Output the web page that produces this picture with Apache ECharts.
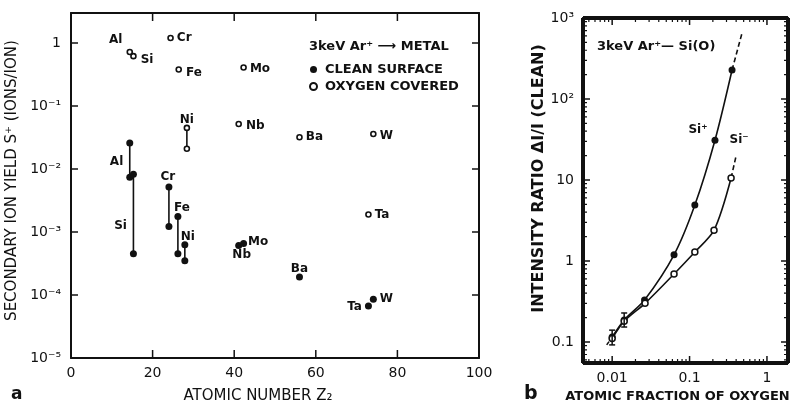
<!DOCTYPE html>
<html>
<head>
<meta charset="utf-8">
<script src="https://cdn.jsdelivr.net/npm/echarts@6/dist/echarts.min.js"></script>
<style>
  html, body { margin: 0; padding: 0; background: #fff; }
  #chart { width: 804px; height: 411px; background: #fff; }
</style>
</head>
<body>
<div id="chart"></div>
<script>
// ---- Panel a: secondary ion yield S+ for 3 keV Ar+ on metals ----
const elements        = ['Al', 'Si', 'Cr', 'Fe', 'Ni', 'Nb', 'Mo', 'Ba', 'Ta', 'W'];
const zClean          = [14.4, 15.3, 24.0, 26.2, 27.9, 41.1, 42.3, 56.0, 72.9, 74.1];
const yieldCleanHigh  = [0.026, 0.0083, 0.0052, 0.00177, 0.00063, 0.00061, 0.00066, 0.000194, 0.000067, 0.000086];
const yieldCleanLow   = [0.0074, 0.00045, 0.00122, 0.00045, 0.00035, null, null, null, null, null];
const zOxygen         = [14.4, 15.3, 24.4, 26.4, 28.4, 41.1, 42.3, 56.0, 72.9, 74.1];
const yieldOxygenHigh = [0.72, 0.62, 1.2, 0.38, 0.045, 0.052, 0.41, 0.032, 0.0019, 0.036];
const yieldOxygenLow  = [null, null, null, null, 0.021, null, null, null, null, null];
const zMajorTicks     = [20, 40, 60, 80];
const yieldMajorTicks = [1e-4, 1e-3, 1e-2, 1e-1, 1];
const yieldExponents  = [-5, -4, -3, -2, -1, 0];
const yieldTickLabels = ['10⁻⁵', '10⁻⁴', '10⁻³', '10⁻²', '10⁻¹', '1'];

// ---- Panel b: intensity ratio vs atomic fraction of oxygen, Si(O) ----
const fracSiPlus       = [0.0100, 0.0143, 0.0262, 0.063, 0.117, 0.213, 0.354];
const ratioSiPlus      = [0.115, 0.187, 0.33, 1.19, 4.9, 31, 228];
const fracSiMinus      = [0.0100, 0.0143, 0.0266, 0.063, 0.117, 0.207, 0.344];
const ratioSiMinus     = [0.110, 0.180, 0.30, 0.69, 1.29, 2.4, 10.6];
const fracSiPlusExt    = [0.354, 0.476];
const ratioSiPlusExt   = [228, 650];
const fracSiMinusExt   = [0.344, 0.40];
const ratioSiMinusExt  = [10.6, 20];
const fracLowExt       = [0.0085, 0.0100];
const ratioLowExt      = [0.092, 0.115];
const errFrac          = [0.0100, 0.0143];
const errLow           = [0.092, 0.153];
const errHigh          = [0.140, 0.228];
const fracMajorTicks   = [0.01, 0.1, 1];
const ratioMajorTicks  = [0.1, 1, 10, 100];
const ratioExponents    = [-1, 0, 1, 2, 3];
const ratioTickLabels   = ['0.1', '1', '10', '10²', '10³'];
const fractionExponents = [-2, -1, 0];
const fractionTickLabels = ['0.01', '0.1', '1'];

const FONT = 'DejaVu Sans';
const INK = '#111';

// plot areas and axis extents
const GRID_A = { left: 71, top: 13, width: 408, height: 345 };
const GRID_B = { left: 583, top: 18, width: 205, height: 345 };
const zMin = 0, zMax = 100, yieldMin = 1e-5, yieldMax = 3;
const fracMin = 0.0042, fracMax = 1.87, ratioMin = 0.055, ratioMax = 1000;

// label placement for element names (style only)
const cleanLabelPlace = {
  Al: { on: 'high', position: 'left',   offset: [0, 19] },
  Si: { on: 'low',  position: 'left',   offset: [0, -28] },
  Cr: { on: 'high', position: 'top',    offset: [-1, 2] },
  Fe: { on: 'high', position: 'top',    offset: [4, 4] },
  Ni: { on: 'high', position: 'top',    offset: [3, 5] },
  Nb: { on: 'high', position: 'bottom', offset: [3, -3] },
  Mo: { on: 'high', position: 'right',  offset: [-2, -2] },
  Ba: { on: 'high', position: 'top',    offset: [0, 4] },
  Ta: { on: 'high', position: 'left',   offset: [0, 1] },
  W:  { on: 'high', position: 'right',  offset: [0, 0] }
};
const oxygenLabelPlace = {
  Al: { position: 'left',  offset: [-1, -12] },
  Si: { position: 'right', offset: [1, 4] },
  Cr: { position: 'right', offset: [0, 0] },
  Fe: { position: 'right', offset: [1, 3] },
  Ni: { position: 'top',   offset: [0, 4] },
  Nb: { position: 'right', offset: [1, 2] },
  Mo: { position: 'right', offset: [0, 1] },
  Ba: { position: 'right', offset: [0, 0] },
  Ta: { position: 'right', offset: [0, 0] },
  W:  { position: 'right', offset: [0, 2] }
};

function labelText() { return { fontFamily: FONT, fontSize: 12, fontWeight: 'bold', color: INK }; }

function powerLabel(labels, exps) {
  return function (v) {
    const e = Math.log10(v);
    const r = Math.round(e);
    if (Math.abs(e - r) > 1e-6) return '';
    const i = exps.indexOf(r);
    return i < 0 ? '' : labels[i];
  };
}

// a straight segment drawn through the axes of one panel
function segment(axisIndex, p1, p2, width) {
  return {
    type: 'line', xAxisIndex: axisIndex, yAxisIndex: axisIndex, z: 2,
    symbol: 'none', silent: true,
    lineStyle: { color: INK, width: width },
    data: [p1, p2]
  };
}

// scatter points for each surface state, with vertical bars joining pairs
const cleanData = [];
const oxygenData = [];
const connectorSeries = [];
elements.forEach(function (el, i) {
  const cp = cleanLabelPlace[el];
  const lab = function (on) {
    return cp.on === on ? { show: true, formatter: el, position: cp.position, offset: cp.offset.slice(), distance: 3 } : { show: false };
  };
  cleanData.push({ value: [zClean[i], yieldCleanHigh[i]], label: lab('high') });
  if (yieldCleanLow[i] !== null) {
    cleanData.push({ value: [zClean[i], yieldCleanLow[i]], label: lab('low') });
    connectorSeries.push(segment(0, [zClean[i], yieldCleanHigh[i]], [zClean[i], yieldCleanLow[i]], 1.6));
  }
  const op = oxygenLabelPlace[el];
  oxygenData.push({ value: [zOxygen[i], yieldOxygenHigh[i]],
    label: { show: true, formatter: el, position: op.position, offset: op.offset.slice(), distance: 3 } });
  if (yieldOxygenLow[i] !== null) {
    oxygenData.push({ value: [zOxygen[i], yieldOxygenLow[i]], label: { show: false } });
    connectorSeries.push(segment(0, [zOxygen[i], yieldOxygenHigh[i]], [zOxygen[i], yieldOxygenLow[i]], 1.6));
  }
});

// ---- frame ticks (inward), expressed through each panel's scales ----
const tickSeries = [];
const zPerPx = (zMax - zMin) / GRID_A.width;
const yieldDecPerPx = Math.log10(yieldMax / yieldMin) / GRID_A.height;
const fracDecPerPx = Math.log10(fracMax / fracMin) / GRID_B.width;
const ratioDecPerPx = Math.log10(ratioMax / ratioMin) / GRID_B.height;

zMajorTicks.forEach(function (z) {
  const f = Math.pow(10, 8 * yieldDecPerPx);
  tickSeries.push(segment(0, [z, yieldMin], [z, yieldMin * f], 1.5));
  tickSeries.push(segment(0, [z, yieldMax], [z, yieldMax / f], 1.5));
});
yieldMajorTicks.forEach(function (v) {
  const d = 7 * zPerPx;
  tickSeries.push(segment(0, [zMin, v], [zMin + d, v], 1.5));
  tickSeries.push(segment(0, [zMax, v], [zMax - d, v], 1.5));
});

function fracTick(v, len, w) {
  const f = Math.pow(10, len * ratioDecPerPx);
  tickSeries.push(segment(2, [v, ratioMin], [v, ratioMin * f], w));
  tickSeries.push(segment(2, [v, ratioMax], [v, ratioMax / f], w));
}
function ratioTick(v, len, w) {
  const f = Math.pow(10, len * fracDecPerPx);
  tickSeries.push(segment(2, [fracMin, v], [fracMin * f, v], w));
  tickSeries.push(segment(2, [fracMax, v], [fracMax / f, v], w));
}
fracMajorTicks.forEach(function (v) { fracTick(v, 7, 1.5); });
ratioMajorTicks.forEach(function (v) { ratioTick(v, 7, 1.5); });
for (let e = -3; e <= 0; e++) {
  for (let m = 2; m <= 9; m++) {
    const v = m * Math.pow(10, e);
    if (v > fracMin && v < fracMax) fracTick(v, 4, 1.2);
  }
}
for (let e = -2; e <= 2; e++) {
  for (let m = 2; m <= 9; m++) {
    const v = m * Math.pow(10, e);
    if (v > ratioMin && v < ratioMax) ratioTick(v, 4, 1.2);
  }
}
// panel b frame (clipped to the plot area, so drawn wider)
tickSeries.push(segment(2, [fracMin, ratioMin], [fracMax, ratioMin], 4));
tickSeries.push(segment(2, [fracMin, ratioMax], [fracMax, ratioMax], 4));
tickSeries.push(segment(2, [fracMin, ratioMin], [fracMin, ratioMax], 4));
tickSeries.push(segment(2, [fracMax, ratioMin], [fracMax, ratioMax], 4));

function renderErrorBar(params, api) {
  const x = api.value(0);
  const lo = api.coord([x, api.value(1)]);
  const hi = api.coord([x, api.value(2)]);
  const w = 3;
  const line = function (x1, y1, x2, y2) {
    return { type: 'line', shape: { x1: x1, y1: y1, x2: x2, y2: y2 }, style: { stroke: INK, lineWidth: 1.5 } };
  };
  return { type: 'group', children: [
    line(lo[0], lo[1], hi[0], hi[1]),
    line(lo[0] - w, lo[1], lo[0] + w, lo[1]),
    line(hi[0] - w, hi[1], hi[0] + w, hi[1])
  ] };
}

function axisLine() { return { show: true, onZero: false, lineStyle: { color: INK, width: 2 } }; }
function tickFont(extra) { return Object.assign({ fontFamily: FONT, fontSize: 14, color: INK }, extra); }

const option = {
  animation: false,
  title: [
    { text: '3keV Ar⁺ ⟶ METAL', left: 309, top: 40, padding: 0,
      textStyle: { fontFamily: FONT, fontSize: 13, fontWeight: 'bold', color: INK } },
    { text: '3keV Ar⁺— Si(O)', left: 597, top: 40, padding: 0,
      textStyle: { fontFamily: FONT, fontSize: 13, fontWeight: 'bold', color: INK } },
    { text: 'a', left: 11, top: 386, padding: 0,
      textStyle: { fontFamily: FONT, fontSize: 17, fontWeight: 'bold', color: INK } },
    { text: 'b', left: 524, top: 385, padding: 0,
      textStyle: { fontFamily: FONT, fontSize: 19, fontWeight: 'bold', color: INK } }
  ],
  legend: {
    data: ['CLEAN SURFACE', 'OXYGEN COVERED'],
    orient: 'vertical', left: 309, top: 63, padding: 0,
    itemWidth: 7, itemHeight: 7, itemGap: 4, icon: 'circle', selectedMode: false,
    textStyle: { fontFamily: FONT, fontSize: 13, fontWeight: 'bold', color: INK, padding: [0, 0, 0, 3] }
  },
  grid: [
    Object.assign({ containLabel: false, outerBoundsMode: 'none' }, GRID_A),
    Object.assign({ containLabel: false, outerBoundsMode: 'none' }, GRID_B)
  ],
  xAxis: [
    { gridIndex: 0, type: 'value', min: zMin, max: zMax, interval: 20, position: 'bottom',
      axisLine: axisLine(), axisTick: { show: false },
      axisLabel: tickFont({ margin: 8 }), splitLine: { show: false },
      name: 'ATOMIC NUMBER Z₂', nameLocation: 'middle', nameGap: 31,
      nameTextStyle: { fontFamily: FONT, fontSize: 15, color: INK, padding: [0, 34, 0, 0] } },
    { gridIndex: 0, type: 'value', min: zMin, max: zMax, interval: 20, position: 'top',
      axisLine: axisLine(), axisTick: { show: false },
      axisLabel: { show: false }, splitLine: { show: false } },
    { gridIndex: 1, type: 'log', logBase: 10, min: fracMin, max: fracMax, position: 'bottom',
      axisLine: axisLine(), axisTick: { show: false },
      axisLabel: tickFont({ margin: 8, formatter: powerLabel(fractionTickLabels, fractionExponents) }),
      splitLine: { show: false },
      name: 'ATOMIC FRACTION OF OXYGEN', nameLocation: 'middle', nameGap: 27,
      nameTextStyle: { fontFamily: FONT, fontSize: 13, fontWeight: 'bold', color: INK, padding: [0, 16, 0, 0] } },
    { gridIndex: 1, type: 'log', logBase: 10, min: fracMin, max: fracMax, position: 'top',
      axisLine: axisLine(), axisTick: { show: false },
      axisLabel: { show: false }, splitLine: { show: false } }
  ],
  yAxis: [
    { gridIndex: 0, type: 'log', logBase: 10, min: yieldMin, max: yieldMax, position: 'left',
      axisLine: axisLine(), axisTick: { show: false },
      axisLabel: tickFont({ margin: 10, formatter: powerLabel(yieldTickLabels, yieldExponents) }),
      splitLine: { show: false },
      name: 'SECONDARY ION YIELD S⁺ (IONS/ION)', nameLocation: 'middle', nameRotate: 90, nameGap: 41,
      nameTextStyle: { fontFamily: FONT, fontSize: 15, color: INK, padding: [0, 0, 0, 10] } },
    { gridIndex: 0, type: 'log', logBase: 10, min: yieldMin, max: yieldMax, position: 'right',
      axisLine: axisLine(), axisTick: { show: false },
      axisLabel: { show: false }, splitLine: { show: false } },
    { gridIndex: 1, type: 'log', logBase: 10, min: ratioMin, max: ratioMax, position: 'left',
      axisLine: axisLine(), axisTick: { show: false },
      axisLabel: tickFont({ margin: 9, formatter: powerLabel(ratioTickLabels, ratioExponents) }),
      splitLine: { show: false },
      name: 'INTENSITY RATIO ΔI/I (CLEAN)', nameLocation: 'middle', nameRotate: 90, nameGap: 33,
      nameTextStyle: { fontFamily: FONT, fontSize: 16, fontWeight: 'bold', color: INK, padding: [0, 0, 0, 24] } },
    { gridIndex: 1, type: 'log', logBase: 10, min: ratioMin, max: ratioMax, position: 'right',
      axisLine: axisLine(), axisTick: { show: false },
      axisLabel: { show: false }, splitLine: { show: false } }
  ],
  series: connectorSeries.concat(tickSeries).concat([
    { name: 'CLEAN SURFACE', type: 'scatter', xAxisIndex: 0, yAxisIndex: 0, z: 3,
      symbol: 'circle', symbolSize: 7, itemStyle: { color: INK, opacity: 1 },
      label: labelText(), data: cleanData },
    { name: 'OXYGEN COVERED', type: 'scatter', xAxisIndex: 0, yAxisIndex: 0, z: 3,
      symbol: 'circle', symbolSize: 5, itemStyle: { color: '#fff', borderColor: INK, borderWidth: 1.6, opacity: 1 },
      label: labelText(), data: oxygenData },

    // panel b
    { name: 'Si+', type: 'line', xAxisIndex: 2, yAxisIndex: 2, z: 3, smooth: 0.3,
      symbol: 'circle', symbolSize: 7, itemStyle: { color: INK },
      lineStyle: { color: INK, width: 1.6 },
      data: fracSiPlus.map(function (f, i) {
        return i === 5
          ? { value: [f, ratioSiPlus[i]], label: { show: true, formatter: 'Si⁺', position: 'left', offset: [0, -10], distance: 4 } }
          : [f, ratioSiPlus[i]];
      }),
      label: labelText() },
    { name: 'Si-', type: 'line', xAxisIndex: 2, yAxisIndex: 2, z: 3, smooth: 0.3,
      symbol: 'circle', symbolSize: 6, itemStyle: { color: '#fff', borderColor: INK, borderWidth: 1.5 },
      lineStyle: { color: INK, width: 1.6 },
      data: fracSiMinus.map(function (f, i) {
        return i === 6
          ? { value: [f, ratioSiMinus[i]], label: { show: true, formatter: 'Si⁻', position: 'top', offset: [8, -24], distance: 4 } }
          : [f, ratioSiMinus[i]];
      }),
      label: labelText() },
    { type: 'line', xAxisIndex: 2, yAxisIndex: 2, z: 2, symbol: 'none', silent: true,
      lineStyle: { color: INK, width: 1.6, type: [5, 3] },
      data: fracSiPlusExt.map(function (f, i) { return [f, ratioSiPlusExt[i]]; }) },
    { type: 'line', xAxisIndex: 2, yAxisIndex: 2, z: 2, symbol: 'none', silent: true,
      lineStyle: { color: INK, width: 1.6, type: [5, 3] },
      data: fracSiMinusExt.map(function (f, i) { return [f, ratioSiMinusExt[i]]; }) },
    { type: 'line', xAxisIndex: 2, yAxisIndex: 2, z: 2, symbol: 'none', silent: true,
      lineStyle: { color: INK, width: 1.6, type: [4, 2] },
      data: fracLowExt.map(function (f, i) { return [f, ratioLowExt[i]]; }) },
    { type: 'custom', xAxisIndex: 2, yAxisIndex: 2, z: 4, silent: true,
      renderItem: renderErrorBar,
      data: errFrac.map(function (f, i) { return [f, errLow[i], errHigh[i]]; }) }
  ])
};

const chart = echarts.init(document.getElementById('chart'));
chart.setOption(option);
</script>
</body>
</html>
